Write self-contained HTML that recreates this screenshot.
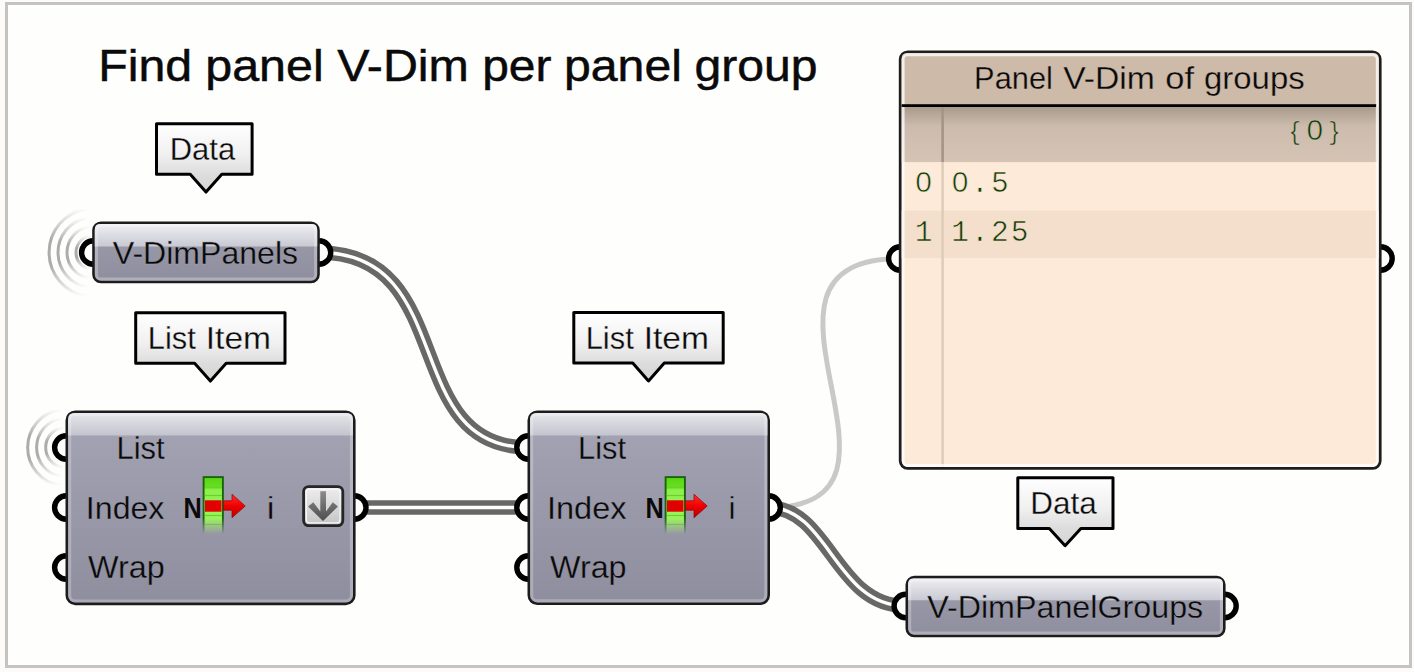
<!DOCTYPE html>
<html><head><meta charset="utf-8"><style>
html,body{margin:0;padding:0;background:#fcfbf7;overflow:hidden;}
svg{display:block;}
</style></head><body>
<svg width="1414" height="672" viewBox="0 0 1414 672">
<defs>
<linearGradient id="hdr" x1="0" y1="0" x2="0" y2="1">
  <stop offset="0" stop-color="#e6e6eb"/><stop offset="1" stop-color="#c4c4ce"/>
</linearGradient>
<linearGradient id="body" x1="0" y1="0" x2="0" y2="1">
  <stop offset="0" stop-color="#a5a4b4"/><stop offset="1" stop-color="#8f8e9e"/>
</linearGradient>
<linearGradient id="phdr" x1="0" y1="0" x2="0" y2="1">
  <stop offset="0" stop-color="#eeeef2"/><stop offset="1" stop-color="#c9c9d3"/>
</linearGradient>
<linearGradient id="pbody" x1="0" y1="0" x2="0" y2="1">
  <stop offset="0" stop-color="#9e9dac"/><stop offset="1" stop-color="#8f8e9e"/>
</linearGradient>
<linearGradient id="bub" x1="0" y1="0" x2="0" y2="1">
  <stop offset="0" stop-color="#ffffff"/><stop offset="0.45" stop-color="#f0f0f0"/><stop offset="0.75" stop-color="#dcdcdc"/><stop offset="1" stop-color="#d4d4d4"/>
</linearGradient>
<linearGradient id="btn" x1="0" y1="0" x2="0" y2="1">
  <stop offset="0" stop-color="#efefef"/><stop offset="1" stop-color="#c4c4c4"/>
</linearGradient>
<linearGradient id="arr" x1="0" y1="0" x2="0" y2="1">
  <stop offset="0" stop-color="#8c8c8c"/><stop offset="1" stop-color="#4e4e4e"/>
</linearGradient>
<linearGradient id="treerow" x1="0" y1="0" x2="0" y2="1">
  <stop offset="0" stop-color="#a89a8c"/><stop offset="0.35" stop-color="#cdbcad"/><stop offset="1" stop-color="#d5c4b4"/>
</linearGradient>
<linearGradient id="green" x1="0" y1="0" x2="0" y2="1">
  <stop offset="0" stop-color="#5ad412"/><stop offset="0.18" stop-color="#66e020"/><stop offset="0.22" stop-color="#8ef04c"/><stop offset="1" stop-color="#a2f466"/>
</linearGradient>
<linearGradient id="redg" x1="0" y1="0" x2="0" y2="1">
  <stop offset="0" stop-color="#ff3030"/><stop offset="0.5" stop-color="#f00000"/><stop offset="1" stop-color="#b80000"/>
</linearGradient>
<linearGradient id="fadeG" gradientUnits="userSpaceOnUse" x1="0" y1="476" x2="0" y2="536">
  <stop offset="0" stop-color="#fff"/><stop offset="0.7" stop-color="#fff"/><stop offset="0.97" stop-color="#000"/>
</linearGradient>
<mask id="fadeMask" maskUnits="userSpaceOnUse" x="150" y="470" width="700" height="70"><rect x="150" y="470" width="700" height="70" fill="url(#fadeG)"/></mask>
<linearGradient id="ag1" gradientUnits="userSpaceOnUse" x1="0" y1="235.2" x2="0" y2="269.8"><stop offset="0" stop-color="#acacac" stop-opacity="0"/><stop offset="0.35" stop-color="#acacac" stop-opacity="1"/><stop offset="0.65" stop-color="#acacac" stop-opacity="1"/><stop offset="1" stop-color="#acacac" stop-opacity="0"/></linearGradient><linearGradient id="ag2" gradientUnits="userSpaceOnUse" x1="0" y1="226.2" x2="0" y2="278.8"><stop offset="0" stop-color="#acacac" stop-opacity="0"/><stop offset="0.35" stop-color="#acacac" stop-opacity="1"/><stop offset="0.65" stop-color="#acacac" stop-opacity="1"/><stop offset="1" stop-color="#acacac" stop-opacity="0"/></linearGradient><linearGradient id="ag3" gradientUnits="userSpaceOnUse" x1="0" y1="217.2" x2="0" y2="287.8"><stop offset="0" stop-color="#acacac" stop-opacity="0"/><stop offset="0.35" stop-color="#acacac" stop-opacity="1"/><stop offset="0.65" stop-color="#acacac" stop-opacity="1"/><stop offset="1" stop-color="#acacac" stop-opacity="0"/></linearGradient><linearGradient id="ag4" gradientUnits="userSpaceOnUse" x1="0" y1="208.3" x2="0" y2="296.7"><stop offset="0" stop-color="#acacac" stop-opacity="0"/><stop offset="0.35" stop-color="#acacac" stop-opacity="1"/><stop offset="0.65" stop-color="#acacac" stop-opacity="1"/><stop offset="1" stop-color="#acacac" stop-opacity="0"/></linearGradient><linearGradient id="ag5" gradientUnits="userSpaceOnUse" x1="0" y1="426.9" x2="0" y2="468.1"><stop offset="0" stop-color="#acacac" stop-opacity="0"/><stop offset="0.35" stop-color="#acacac" stop-opacity="1"/><stop offset="0.65" stop-color="#acacac" stop-opacity="1"/><stop offset="1" stop-color="#acacac" stop-opacity="0"/></linearGradient><linearGradient id="ag6" gradientUnits="userSpaceOnUse" x1="0" y1="417.8" x2="0" y2="477.2"><stop offset="0" stop-color="#acacac" stop-opacity="0"/><stop offset="0.35" stop-color="#acacac" stop-opacity="1"/><stop offset="0.65" stop-color="#acacac" stop-opacity="1"/><stop offset="1" stop-color="#acacac" stop-opacity="0"/></linearGradient><linearGradient id="ag7" gradientUnits="userSpaceOnUse" x1="0" y1="408.85" x2="0" y2="486.15"><stop offset="0" stop-color="#acacac" stop-opacity="0"/><stop offset="0.35" stop-color="#acacac" stop-opacity="1"/><stop offset="0.65" stop-color="#acacac" stop-opacity="1"/><stop offset="1" stop-color="#acacac" stop-opacity="0"/></linearGradient></defs>
<rect x="0" y="0" width="1414" height="672" fill="#fcfbf7"/>
<rect x="6.5" y="3.5" width="1404" height="663" fill="#fefefd" stroke="#c4c3c1" stroke-width="3"/>
<text x="98.26" y="81.3" font-family='"Liberation Sans", sans-serif' font-size="44.5" font-weight="normal" textLength="93.94" lengthAdjust="spacingAndGlyphs" fill="#0a0a0a" stroke="#0a0a0a" stroke-width="0.5">Find</text>
<text x="205.24" y="81.3" font-family='"Liberation Sans", sans-serif' font-size="44.5" font-weight="normal" textLength="118.41" lengthAdjust="spacingAndGlyphs" fill="#0a0a0a" stroke="#0a0a0a" stroke-width="0.5">panel</text>
<text x="337.20" y="81.3" font-family='"Liberation Sans", sans-serif' font-size="44.5" font-weight="normal" textLength="131.71" lengthAdjust="spacingAndGlyphs" fill="#0a0a0a" stroke="#0a0a0a" stroke-width="0.5">V-Dim</text>
<text x="482.17" y="81.3" font-family='"Liberation Sans", sans-serif' font-size="44.5" font-weight="normal" textLength="69.28" lengthAdjust="spacingAndGlyphs" fill="#0a0a0a" stroke="#0a0a0a" stroke-width="0.5">per</text>
<text x="563.95" y="81.3" font-family='"Liberation Sans", sans-serif' font-size="44.5" font-weight="normal" textLength="117.98" lengthAdjust="spacingAndGlyphs" fill="#0a0a0a" stroke="#0a0a0a" stroke-width="0.5">panel</text>
<text x="694.44" y="81.3" font-family='"Liberation Sans", sans-serif' font-size="44.5" font-weight="normal" textLength="123.04" lengthAdjust="spacingAndGlyphs" fill="#0a0a0a" stroke="#0a0a0a" stroke-width="0.5">group</text>
<path d="M768.6,507.5 C943.6,507.5 715.3,258.5 900.3,258.5" fill="none" stroke="#c9c9c8" stroke-width="5"/>
<path d="M319,252.5 C459,252.5 398.5,447.5 528.5,447.5" fill="none" stroke="#686866" stroke-width="14.3"/>
<path d="M319,252.5 C459,252.5 398.5,447.5 528.5,447.5" fill="none" stroke="#fefefd" stroke-width="3.4"/>
<path d="M354.3,507.5 C414.3,507.5 468.5,507.5 528.5,507.5" fill="none" stroke="#686866" stroke-width="14.3"/>
<path d="M354.3,507.5 C414.3,507.5 468.5,507.5 528.5,507.5" fill="none" stroke="#fefefd" stroke-width="3.4"/>
<path d="M768.6,507.5 C828.6,507.5 835.5,606 905.5,606" fill="none" stroke="#686866" stroke-width="14.3"/>
<path d="M768.6,507.5 C828.6,507.5 835.5,606 905.5,606" fill="none" stroke="#fefefd" stroke-width="3.4"/>
<path d="M90.30,235.46 A17.3,17.3 0 0 0 90.30,269.54" fill="none" stroke="url(#ag1)" stroke-width="3"/>
<path d="M88.73,226.60 A26.3,26.3 0 0 0 88.73,278.40" fill="none" stroke="url(#ag2)" stroke-width="3"/>
<path d="M87.17,217.74 A35.3,35.3 0 0 0 87.17,287.26" fill="none" stroke="url(#ag3)" stroke-width="3"/>
<path d="M85.62,208.97 A44.2,44.2 0 0 0 85.62,296.03" fill="none" stroke="url(#ag4)" stroke-width="3"/>
<path d="M62.72,427.21 A20.6,20.6 0 0 0 62.72,467.79" fill="none" stroke="url(#ag5)" stroke-width="3"/>
<path d="M61.14,418.25 A29.7,29.7 0 0 0 61.14,476.75" fill="none" stroke="url(#ag6)" stroke-width="3"/>
<path d="M59.59,409.44 A38.65,38.65 0 0 0 59.59,485.56" fill="none" stroke="url(#ag7)" stroke-width="3"/>
<circle cx="93.3" cy="252.5" r="11.7" fill="#fefefd" stroke="#000" stroke-width="5.4"/>
<circle cx="319" cy="252.5" r="11.7" fill="#fefefd" stroke="#000" stroke-width="5.4"/>
<circle cx="66.3" cy="447.5" r="11.7" fill="#fefefd" stroke="#000" stroke-width="5.4"/>
<circle cx="66.3" cy="507.5" r="11.7" fill="#fefefd" stroke="#000" stroke-width="5.4"/>
<circle cx="66.3" cy="567.5" r="11.7" fill="#fefefd" stroke="#000" stroke-width="5.4"/>
<circle cx="354.3" cy="507.5" r="11.7" fill="#fefefd" stroke="#000" stroke-width="5.4"/>
<circle cx="528.5" cy="447.5" r="11.7" fill="#fefefd" stroke="#000" stroke-width="5.4"/>
<circle cx="528.5" cy="507.5" r="11.7" fill="#fefefd" stroke="#000" stroke-width="5.4"/>
<circle cx="528.5" cy="567.5" r="11.7" fill="#fefefd" stroke="#000" stroke-width="5.4"/>
<circle cx="768.6" cy="507.5" r="11.7" fill="#fefefd" stroke="#000" stroke-width="5.4"/>
<circle cx="900.3" cy="258.5" r="11.7" fill="#fefefd" stroke="#000" stroke-width="5.4"/>
<circle cx="1380.5" cy="258.5" r="11.7" fill="#fefefd" stroke="#000" stroke-width="5.4"/>
<circle cx="905.8" cy="606" r="11.7" fill="#fefefd" stroke="#000" stroke-width="5.4"/>
<circle cx="1224.5" cy="606" r="11.7" fill="#fefefd" stroke="#000" stroke-width="5.4"/>
<rect x="93.5" y="222.8" width="225.00000000000003" height="59.20000000000001" rx="7.5" fill="url(#pbody)" stroke="#1c1c1c" stroke-width="2.6"/>
<path d="M94.8,246.6 V229.5 Q94.8,224.1 100.2,224.1 H311.8 Q317.2,224.1 317.2,229.5 V246.6 Z" fill="url(#phdr)"/>
<rect x="96.35000000000001" y="225.65" width="219.3" height="53.500000000000014" rx="4.5" fill="none" stroke="#ffffff" stroke-opacity="0.28" stroke-width="3.1"/>
<text x="112.80" y="263.7" font-family='"Liberation Sans", sans-serif' font-size="32" font-weight="normal" textLength="185.25" lengthAdjust="spacingAndGlyphs" fill="#0a0a0a" stroke="#a8a8b6" stroke-width="0.3">V-DimPanels</text>
<rect x="906.8" y="577.0999999999999" width="317.4999999999999" height="58.9" rx="7.5" fill="url(#pbody)" stroke="#1c1c1c" stroke-width="2.6"/>
<path d="M908.1,600.3 V583.8 Q908.1,578.4 913.5,578.4 H1217.6 Q1223.0,578.4 1223.0,583.8 V600.3 Z" fill="url(#phdr)"/>
<rect x="909.65" y="579.9499999999999" width="311.7999999999999" height="53.2" rx="4.5" fill="none" stroke="#ffffff" stroke-opacity="0.28" stroke-width="3.1"/>
<text x="927.20" y="617.5" font-family='"Liberation Sans", sans-serif' font-size="32" font-weight="normal" textLength="276.00" lengthAdjust="spacingAndGlyphs" fill="#0a0a0a" stroke="#a8a8b6" stroke-width="0.3">V-DimPanelGroups</text>
<rect x="66.8" y="411.7" width="287.5" height="192.20000000000007" rx="8.5" fill="url(#body)" stroke="#1c1c1c" stroke-width="2.6"/>
<path d="M68.1,435.5 V419.4 Q68.1,413.0 74.5,413.0 H346.6 Q353.0,413.0 353.0,419.4 V435.5 Z" fill="url(#hdr)"/>
<rect x="69.65" y="414.54999999999995" width="281.8" height="186.50000000000006" rx="5.5" fill="none" stroke="#ffffff" stroke-opacity="0.25" stroke-width="3.1"/>
<text x="116.50" y="458.7" font-family='"Liberation Sans", sans-serif' font-size="32" font-weight="normal" textLength="48.10" lengthAdjust="spacingAndGlyphs" fill="#0a0a0a" stroke="#a2a1b0" stroke-width="0.3">List</text>
<text x="85.89" y="518.8" font-family='"Liberation Sans", sans-serif' font-size="32" font-weight="normal" textLength="78.49" lengthAdjust="spacingAndGlyphs" fill="#0a0a0a" stroke="#9b9aa9" stroke-width="0.3">Index</text>
<text x="88.10" y="578.2" font-family='"Liberation Sans", sans-serif' font-size="32" font-weight="normal" textLength="76.68" lengthAdjust="spacingAndGlyphs" fill="#0a0a0a" stroke="#9594a4" stroke-width="0.3">Wrap</text>
<g transform="translate(0.00,0)"><text x="0" y="0" transform="translate(183.4,517.7) scale(0.87,1)" font-family='"Liberation Sans", sans-serif' font-weight="bold" font-size="29" fill="#0a0a0a">N</text><g mask="url(#fadeMask)"><rect x="203.6" y="477.1" width="19.3" height="58" fill="url(#green)" stroke="#1a6410" stroke-width="1.9"/><line x1="204.8" y1="487.5" x2="222" y2="487.5" stroke="#66d22a" stroke-width="1.2"/><line x1="204.8" y1="495.5" x2="222" y2="495.5" stroke="#66d22a" stroke-width="1.2"/><line x1="204.8" y1="515.5" x2="222" y2="515.5" stroke="#66d22a" stroke-width="1.2"/><line x1="204.8" y1="524.5" x2="222" y2="524.5" stroke="#66d22a" stroke-width="1.2"/></g><rect x="205" y="500.3" width="16.5" height="11.4" fill="#e20000"/><path d="M223.5,500.8 H232 V494.2 L245.2,506 L232,517.8 V510.2 H223.5 Z" fill="url(#redg)" stroke="#9a0000" stroke-width="0.7"/></g>
<text x="266.33" y="518.5" font-family='"Liberation Sans", sans-serif' font-size="32" font-weight="normal" textLength="8.77" lengthAdjust="spacingAndGlyphs" fill="#0a0a0a" stroke="#9b9aa9" stroke-width="0.6">i</text>
<rect x="303.6" y="486.6" width="39.2" height="39" rx="5" fill="url(#btn)" stroke="#262626" stroke-width="2.8"/>
<rect x="306.4" y="489.4" width="33.6" height="33.4" rx="3" fill="none" stroke="#f6f6f6" stroke-width="1.2"/>
<path d="M320.3,491.2 H326 V511.5 L332.8,502.2 L337.9,506.6 L323,520.9 L308.2,506.6 L313.3,502.2 L320.3,511.5 Z" fill="url(#arr)"/>
<rect x="528.8" y="411.8" width="239.9" height="191.9" rx="8.5" fill="url(#body)" stroke="#1c1c1c" stroke-width="2.6"/>
<path d="M530.1,435.5 V419.5 Q530.1,413.1 536.5,413.1 H761 Q767.4,413.1 767.4,419.5 V435.5 Z" fill="url(#hdr)"/>
<rect x="531.65" y="414.65" width="234.2" height="186.2" rx="5.5" fill="none" stroke="#ffffff" stroke-opacity="0.25" stroke-width="3.1"/>
<text x="578.11" y="458.7" font-family='"Liberation Sans", sans-serif' font-size="32" font-weight="normal" textLength="47.89" lengthAdjust="spacingAndGlyphs" fill="#0a0a0a" stroke="#a2a1b0" stroke-width="0.3">List</text>
<text x="546.95" y="518.8" font-family='"Liberation Sans", sans-serif' font-size="32" font-weight="normal" textLength="79.53" lengthAdjust="spacingAndGlyphs" fill="#0a0a0a" stroke="#9b9aa9" stroke-width="0.3">Index</text>
<text x="550.00" y="578.2" font-family='"Liberation Sans", sans-serif' font-size="32" font-weight="normal" textLength="76.58" lengthAdjust="spacingAndGlyphs" fill="#0a0a0a" stroke="#9594a4" stroke-width="0.3">Wrap</text>
<g transform="translate(462.00,0)"><text x="0" y="0" transform="translate(183.4,517.7) scale(0.87,1)" font-family='"Liberation Sans", sans-serif' font-weight="bold" font-size="29" fill="#0a0a0a">N</text><g mask="url(#fadeMask)"><rect x="203.6" y="477.1" width="19.3" height="58" fill="url(#green)" stroke="#1a6410" stroke-width="1.9"/><line x1="204.8" y1="487.5" x2="222" y2="487.5" stroke="#66d22a" stroke-width="1.2"/><line x1="204.8" y1="495.5" x2="222" y2="495.5" stroke="#66d22a" stroke-width="1.2"/><line x1="204.8" y1="515.5" x2="222" y2="515.5" stroke="#66d22a" stroke-width="1.2"/><line x1="204.8" y1="524.5" x2="222" y2="524.5" stroke="#66d22a" stroke-width="1.2"/></g><rect x="205" y="500.3" width="16.5" height="11.4" fill="#e20000"/><path d="M223.5,500.8 H232 V494.2 L245.2,506 L232,517.8 V510.2 H223.5 Z" fill="url(#redg)" stroke="#9a0000" stroke-width="0.7"/></g>
<text x="728.13" y="518.5" font-family='"Liberation Sans", sans-serif' font-size="32" font-weight="normal" textLength="8.06" lengthAdjust="spacingAndGlyphs" fill="#0a0a0a" stroke="#9b9aa9" stroke-width="0.6">i</text>
<path d="M156.5,123.7 H252.1 V174.2 H221.8 L206,192.1 L190.2,174.2 H156.5 Z" fill="url(#bub)" stroke="#000" stroke-width="3.0" stroke-linejoin="round"/>
<text x="169.70" y="159.9" font-family='"Liberation Sans", sans-serif' font-size="32" font-weight="normal" textLength="65.41" lengthAdjust="spacingAndGlyphs" fill="#0a0a0a" stroke="#ececec" stroke-width="0.3">Data</text>
<path d="M135.7,312.7 H285.0 V363.3 H226.20000000000002 L210.4,381.1 L194.6,363.3 H135.7 Z" fill="url(#bub)" stroke="#000" stroke-width="3.0" stroke-linejoin="round"/>
<text x="147.81" y="349.0" font-family='"Liberation Sans", sans-serif' font-size="32" font-weight="normal" textLength="48.00" lengthAdjust="spacingAndGlyphs" fill="#0a0a0a" stroke="#ececec" stroke-width="0.3">List</text>
<text x="205.75" y="349.0" font-family='"Liberation Sans", sans-serif' font-size="32" font-weight="normal" textLength="65.29" lengthAdjust="spacingAndGlyphs" fill="#0a0a0a" stroke="#ececec" stroke-width="0.3">Item</text>
<path d="M573.8,312.6 H723.2 V363.0 H664.3 L648.5,380.9 L632.7,363.0 H573.8 Z" fill="url(#bub)" stroke="#000" stroke-width="3.0" stroke-linejoin="round"/>
<text x="585.71" y="349.1" font-family='"Liberation Sans", sans-serif' font-size="32" font-weight="normal" textLength="48.00" lengthAdjust="spacingAndGlyphs" fill="#0a0a0a" stroke="#ececec" stroke-width="0.3">List</text>
<text x="643.65" y="349.1" font-family='"Liberation Sans", sans-serif' font-size="32" font-weight="normal" textLength="65.29" lengthAdjust="spacingAndGlyphs" fill="#0a0a0a" stroke="#ececec" stroke-width="0.3">Item</text>
<path d="M1017.8,477.8 H1113.0 V528.5 H1080.8999999999999 L1065.1,545.7 L1049.3,528.5 H1017.8 Z" fill="url(#bub)" stroke="#000" stroke-width="3.0" stroke-linejoin="round"/>
<text x="1030.25" y="514.3" font-family='"Liberation Sans", sans-serif' font-size="32" font-weight="normal" textLength="66.55" lengthAdjust="spacingAndGlyphs" fill="#0a0a0a" stroke="#ececec" stroke-width="0.3">Data</text>
<rect x="900.25" y="51.85" width="479.9" height="416.50000000000006" rx="7.5" fill="#feead9" stroke="#1e1e1e" stroke-width="2.9"/>
<path d="M901.6999999999999,104.5 V58.3 Q901.6999999999999,53.3 906.6999999999999,53.3 H1373.6999999999998 Q1378.6999999999998,53.3 1378.6999999999998,58.3 V104.5 Z" fill="#cdbaa9"/>
<rect x="901.6999999999999" y="107" width="476.9999999999999" height="55.1" fill="url(#treerow)"/>
<rect x="901.6999999999999" y="210.5" width="476.9999999999999" height="47.6" fill="#f4dfcd"/>
<rect x="941.3" y="107" width="2.6" height="55.1" fill="#a49585"/>
<rect x="941.3" y="162.1" width="2.6" height="304.80000000000007" fill="#e0ccbb"/>
<rect x="903.15" y="54.75" width="474.0999999999999" height="410.70000000000005" rx="4.5" fill="none" stroke="#ffffff" stroke-opacity="0.75" stroke-width="2.9"/>
<rect x="901.6999999999999" y="104.2" width="474.5000000000001" height="2.8" fill="#000"/>
<text x="974.11" y="89.2" font-family='"Liberation Sans", sans-serif' font-size="32" font-weight="normal" textLength="78.76" lengthAdjust="spacingAndGlyphs" fill="#0a0a0a" stroke="#cdbaa9" stroke-width="0.3">Panel</text>
<text x="1063.20" y="89.2" font-family='"Liberation Sans", sans-serif' font-size="32" font-weight="normal" textLength="91.72" lengthAdjust="spacingAndGlyphs" fill="#0a0a0a" stroke="#cdbaa9" stroke-width="0.3">V-Dim</text>
<text x="1165.22" y="89.2" font-family='"Liberation Sans", sans-serif' font-size="32" font-weight="normal" textLength="28.74" lengthAdjust="spacingAndGlyphs" fill="#0a0a0a" stroke="#cdbaa9" stroke-width="0.3">of</text>
<text x="1204.07" y="89.2" font-family='"Liberation Sans", sans-serif' font-size="32" font-weight="normal" textLength="100.60" lengthAdjust="spacingAndGlyphs" fill="#0a0a0a" stroke="#cdbaa9" stroke-width="0.3">groups</text>
<text x="1305.95" y="140" font-family='"Liberation Mono", monospace' font-size="29.5" letter-spacing="2.20" fill="#0e3c06" stroke="#d3c2b2" stroke-width="0.6">0</text>
<text x="1286.15" y="140" transform="translate(1294.9,132.6) scale(0.66,0.86) translate(-1295,-131.5)" font-family='"Liberation Mono", monospace' font-size="29.5" fill="#0e3c06" stroke="#d3c2b2" stroke-width="0.4">{</text>
<text x="1325.15" y="140" transform="translate(1334.4,132.6) scale(0.66,0.86) translate(-1334,-131.5)" font-family='"Liberation Mono", monospace' font-size="29.5" fill="#0e3c06" stroke="#d3c2b2" stroke-width="0.4">}</text>
<text x="914.80" y="192.3" font-family='"Liberation Mono", monospace' font-size="29.5" letter-spacing="2.20" fill="#0e3c06" stroke="#fde9d9" stroke-width="0.6">0</text>
<text x="951.15" y="192.3" font-family='"Liberation Mono", monospace' font-size="29.5" letter-spacing="2.20" fill="#0e3c06" stroke="#fde9d9" stroke-width="0.6">0.5</text>
<text x="914.80" y="240.7" font-family='"Liberation Mono", monospace' font-size="29.5" letter-spacing="2.20" fill="#0e3c06" stroke="#f4dfcd" stroke-width="0.6">1</text>
<text x="951.15" y="240.7" font-family='"Liberation Mono", monospace' font-size="29.5" letter-spacing="2.20" fill="#0e3c06" stroke="#f4dfcd" stroke-width="0.6">1.25</text>
<rect x="920.3" y="179.2" width="5.4" height="5" fill="#fde9d9"/>
<rect x="957.3" y="179.2" width="5.4" height="5" fill="#fde9d9"/>
<rect x="1311.8" y="127.2" width="5.4" height="5" fill="#cfbeaf"/>
</svg>
</body></html>
